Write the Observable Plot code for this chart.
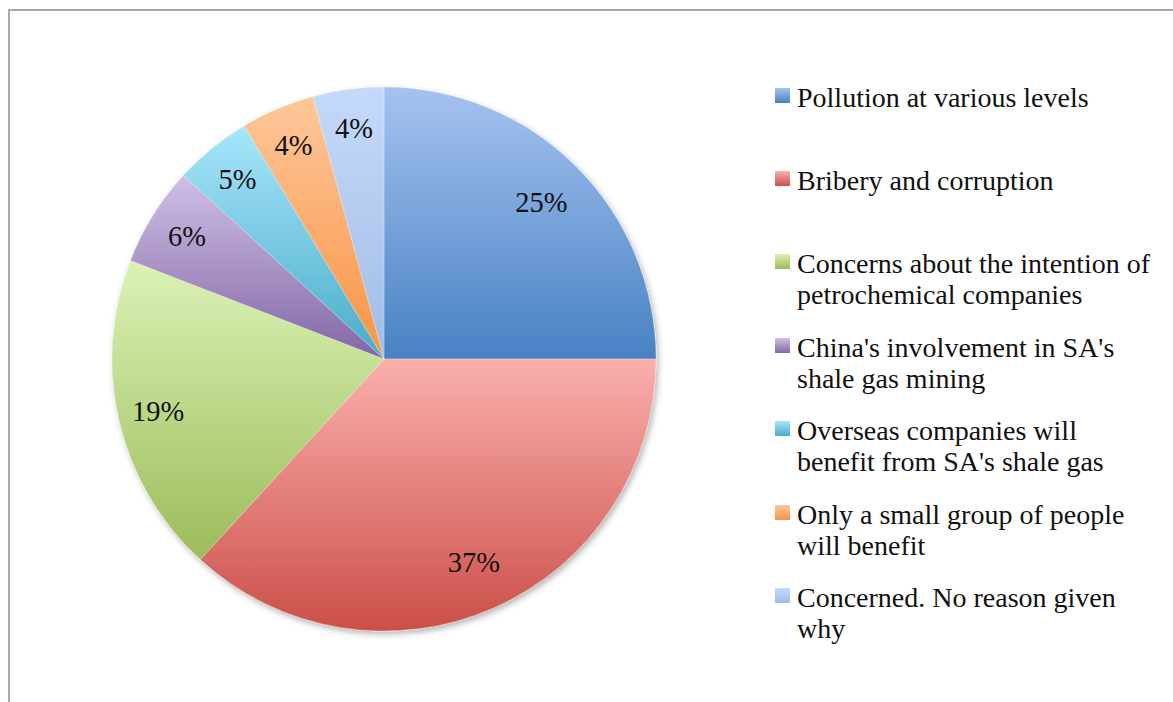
<!DOCTYPE html>
<html>
<head>
<meta charset="utf-8">
<script src="https://cdn.jsdelivr.net/npm/d3@7"></script>
<script src="https://cdn.jsdelivr.net/npm/@observablehq/plot@0.6"></script>
<style>
  html, body { margin: 0; padding: 0; background: #fff; }
  #wrap { position: relative; width: 1173px; height: 702px; overflow: hidden; }
  #frame { position: absolute; left: 8px; top: 9px; width: 1300px; height: 900px; border: 2px solid #a9a9a9; box-sizing: border-box; }
  #chart { position: absolute; left: 0; top: 0; }
  #legend { position: absolute; left: 775px; top: 0; font-family: "Liberation Serif", serif; font-size: 28px; color: #111; }
  .item { position: absolute; left: 0; white-space: nowrap; display: flex; align-items: flex-start; }
  .sw { width: 15px; height: 15px; margin-top: 6px; margin-right: 7px; flex: none; }
  .txt { line-height: 31px; }
</style>
</head>
<body>
<div id="wrap">
  <div id="frame"></div>
  <div id="chart"></div>
  <div id="legend"></div>
</div>
<script>
// ---- data ----
const categories = [
  "Pollution at various levels",
  "Bribery and corruption",
  "Concerns about the intention of petrochemical companies",
  "China's involvement in SA's shale gas mining",
  "Overseas companies will benefit from SA's shale gas",
  "Only a small group of people will benefit",
  "Concerned. No reason given why"
];
const legendLines = [
  ["Pollution at various levels"],
  ["Bribery and corruption"],
  ["Concerns about the intention of", "petrochemical companies"],
  ["China's involvement in SA's", "shale gas mining"],
  ["Overseas companies will", "benefit from SA's shale gas"],
  ["Only a small group of people", "will benefit"],
  ["Concerned. No reason given", "why"]
];
// shares (percent); labels show them rounded
const values = [25.0, 36.8, 19.1, 5.9, 4.6, 4.4, 4.2];
// gradient colours (top, bottom)
const colorTop = ["#a6c2f0", "#fab0ae", "#dcf2b5", "#cfc0e6", "#a8e6fc", "#fec79a", "#c4dafb"];
const colorBottom = ["#4782c4", "#cb4f48", "#9cbc5a", "#8166a5", "#49acc8", "#f79443", "#a2bce4"];

const total = d3.sum(values);
const rows = categories.map((c, i) => ({category: c, value: values[i], i}));
const arcs = d3.pie().value(d => d.value).sort(null)(rows);
const labels = arcs.map(a => {
  const mid = (a.startAngle + a.endAngle) / 2;
  const share = a.data.value / total;
  const lr = share >= 0.2 ? 0.815 : 0.855;
  return {x: lr * Math.sin(mid), y: lr * Math.cos(mid), text: Math.round(share * 100) + "%"};
});

function pieMark(index, scales, values, dimensions, context) {
  const x = scales.x, y = scales.y;
  const cx = x(0), cy = y(0), r = x(1) - x(0);
  const svg = d3.create("svg:g");
  const defs = svg.append("defs");
  rows.forEach((d, i) => {
    const g = defs.append("linearGradient").attr("id", "grad" + i)
      .attr("x1", 0).attr("y1", 0).attr("x2", 0).attr("y2", 1);
    g.append("stop").attr("offset", "0%").attr("stop-color", colorTop[i]);
    g.append("stop").attr("offset", "100%").attr("stop-color", colorBottom[i]);
  });
  const f = defs.append("filter").attr("id", "shadow").attr("x", "-10%").attr("y", "-10%").attr("width", "125%").attr("height", "125%");
  f.append("feDropShadow").attr("dx", 2).attr("dy", 3).attr("stdDeviation", 3).attr("flood-color", "#000").attr("flood-opacity", 0.3);
  const arc = d3.arc().innerRadius(0).outerRadius(r);
  const g = svg.append("g").attr("transform", `translate(${cx},${cy})`).attr("filter", "url(#shadow)");
  g.selectAll("path").data(arcs).join("path")
    .attr("d", arc)
    .attr("fill", d => `url(#grad${d.index})`)
    .attr("stroke", "rgba(255,255,255,0.35)")
    .attr("stroke-width", 0.7);
  return svg.node();
}

const plot = Plot.plot({
  width: 760,
  height: 702,
  margin: 0,
  x: {domain: [-1, 1], range: [112, 656], axis: null},
  y: {domain: [-1, 1], range: [631, 87], axis: null},
  marks: [
    pieMark,
    Plot.text(labels, {x: "x", y: "y", text: "text", fontSize: 28.5, fontFamily: "Liberation Serif", fill: "#111"})
  ]
});
document.getElementById("chart").appendChild(plot);

const legend = d3.select("#legend");
legendLines.forEach((lines, i) => {
  const item = legend.append("div").attr("class", "item").style("top", (97 - 15.5 + i * 83.4) + "px");
  item.append("div").attr("class", "sw").style("background", `linear-gradient(${colorTop[i]}, ${colorBottom[i]})`);
  item.append("div").attr("class", "txt").html(lines.join("<br>"));
});
</script>
</body>
</html>
